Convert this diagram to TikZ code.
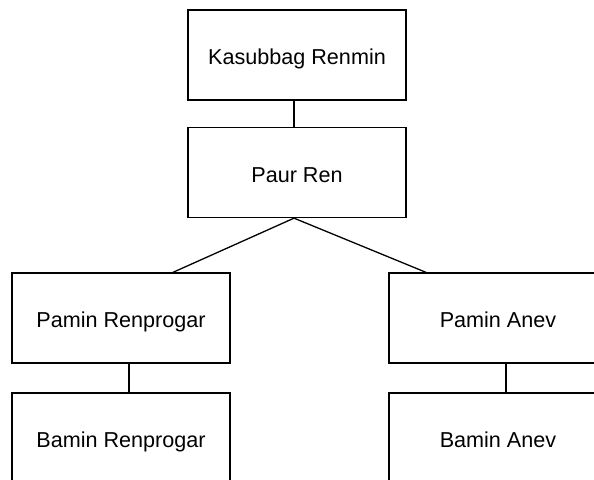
\documentclass[tikz,border=0pt]{standalone}
\usepackage{fontspec}
\setmainfont{Liberation Sans}
\begin{document}
\begin{tikzpicture}[x=1pt,y=-1pt,
  unit/.style={draw=black, line width=1.3pt, fill=white, minimum width=218pt,
    minimum height=90pt, inner sep=0pt, text height=19pt, text depth=0pt,
    font=\fontsize{21.6}{26}\selectfont},
  link/.style={draw=black, line width=1.3pt}]
  \useasboundingbox (0,0) rectangle (594,479);
  \fill[white] (0,0) rectangle (594,479);
  \clip (0,0) rectangle (594,479);
  % chart units
  \node[unit] (kas) at (297,55) {Kasubbag Renmin};
  \node[unit] (paur) at (297,172.5) {Paur Ren};
  \node[unit] (pr) at (121,318) {Pamin Renprogar};
  \node[unit] (br) at (121,438) {Bamin Renprogar};
  \node[unit] (pa) at (498,318) {Pamin Anev};
  \node[unit] (ba) at (498,438) {Bamin Anev};
  % connectors
  \draw[link] ([xshift=-3pt]kas.south) -- ([xshift=-3pt]paur.north);
  \draw[link] ([xshift=52pt]pr.north) -- ([xshift=-3pt]paur.south) -- ([xshift=-72pt]pa.north);
  \draw[link] ([xshift=8pt]pr.south) -- ([xshift=8pt]br.north);
  \draw[link] ([xshift=8pt]pa.south) -- ([xshift=8pt]ba.north);
\end{tikzpicture}
\end{document}
